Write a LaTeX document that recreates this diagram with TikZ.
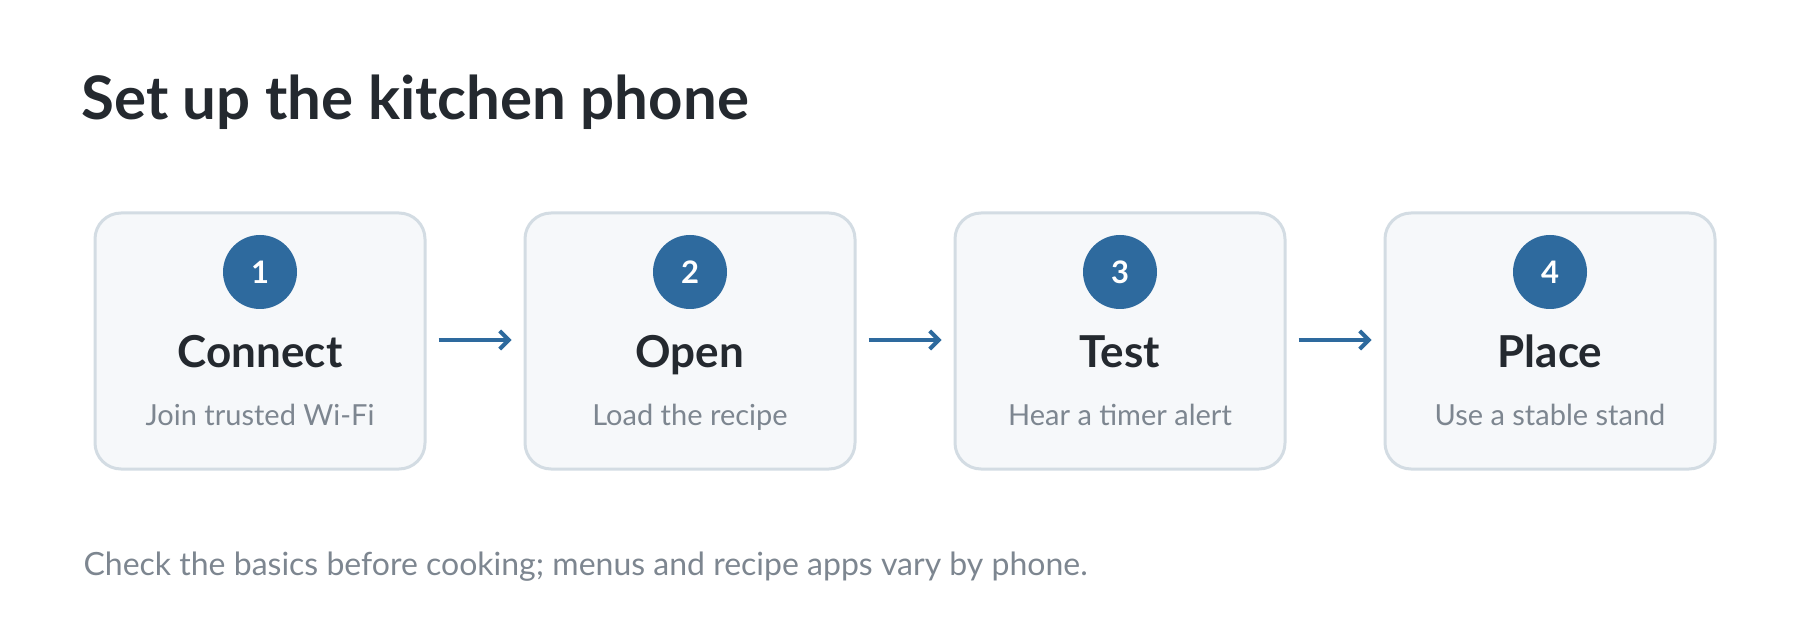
\documentclass[tikz,border=0pt]{standalone}
\usepackage{fontspec}
\setmainfont{Lato}
\usetikzlibrary{arrows.meta}
\definecolor{stepblue}{HTML}{2E6A9E}
\definecolor{inkdark}{HTML}{24292F}
\definecolor{inkgrey}{HTML}{7D8690}
\definecolor{boxfill}{HTML}{F6F8FA}
\definecolor{boxline}{HTML}{D3DCE3}
\tikzset{
  stepbox/.style={draw=boxline, line width=3pt, fill=boxfill, rounded corners=26pt, minimum width=330pt, minimum height=256pt, inner sep=0pt},
  badge/.style={circle, fill=stepblue, minimum size=74pt, inner sep=0pt, text=white, font=\fontsize{31}{36}\selectfont\bfseries},
  steptitle/.style={anchor=base, text=inkdark, font=\fontsize{44}{50}\selectfont\bfseries},
  hint/.style={anchor=base, text=inkgrey, font=\fontsize{29}{34}\selectfont},
  flow/.style={draw=stepblue, line width=4pt, -{Straight Barb[length=9pt,width=18pt]}}
}
\begin{document}
\begin{tikzpicture}[x=1pt,y=-1pt]
                \useasboundingbox (0,0) rectangle (1800,620);
                \node[anchor=base west, text=inkdark, font=\fontsize{60}{68}\selectfont\bfseries] (title) at (78,120) {Set up the kitchen phone};

                \node[stepbox] (box1) at (260,341) {};
                \node[stepbox] (box2) at (690,341) {};
                \node[stepbox] (box3) at (1120,341) {};
                \node[stepbox] (box4) at (1550,341) {};

                \node[badge] (num1) at (260,272) {1};
                \node[badge] (num2) at (690,272) {2};
                \node[badge] (num3) at (1120,272) {3};
                \node[badge] (num4) at (1550,272) {4};

                \node[steptitle] (name1) at (260,368) {Connect};
                \node[steptitle] (name2) at (690,368) {Open};
                \node[steptitle] (name3) at (1120,368) {Test};
                \node[steptitle] (name4) at (1550,368) {Place};

                \node[hint] (hint1) at (260,425) {Join trusted Wi-Fi};
                \node[hint] (hint2) at (690,425) {Load the recipe};
                \node[hint] (hint3) at (1120,425) {Hear a timer alert};
                \node[hint] (hint4) at (1550,425) {Use a stable stand};

                \draw[flow] ([xshift=12pt,yshift=1pt]box1.east) -- ([xshift=-12pt,yshift=1pt]box2.west);
                \draw[flow] ([xshift=12pt,yshift=1pt]box2.east) -- ([xshift=-12pt,yshift=1pt]box3.west);
                \draw[flow] ([xshift=12pt,yshift=1pt]box3.east) -- ([xshift=-12pt,yshift=1pt]box4.west);

                \node[anchor=base west, text=inkgrey, font=\fontsize{32}{37}\selectfont] (note) at (80,575) {Check the basics before cooking; menus and recipe apps vary by phone.};
            \end{tikzpicture}
\end{document}
